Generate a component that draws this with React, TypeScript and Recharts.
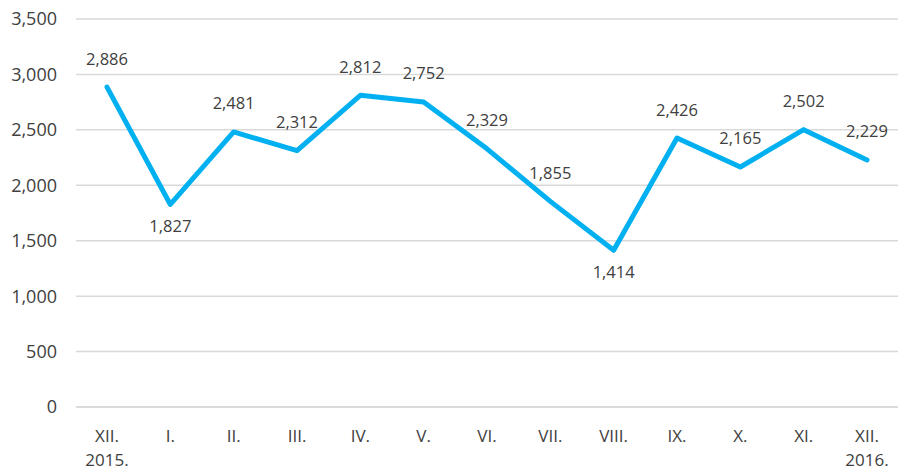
import React from 'react';
import { LineChart, Line, XAxis, YAxis, CartesianGrid, LabelList } from 'recharts';

const categories = ['XII. 2015.', 'I.', 'II.', 'III.', 'IV.', 'V.', 'VI.', 'VII.', 'VIII.', 'IX.', 'X.', 'XI.', 'XII. 2016.'];
const values = [2886, 1827, 2481, 2312, 2812, 2752, 2329, 1855, 1414, 2426, 2165, 2502, 2229];
const belowIdx = [1, 8];
const yTicks = [0, 500, 1000, 1500, 2000, 2500, 3000, 3500];

const data = categories.map((c, i) => ({ name: c, value: values[i] }));

const FONT = "'Open Sans', sans-serif";
const TEXT = '#404040';

const fmt = (v: number) => v.toLocaleString('en-US');

const XTick = (props: any) => {
  const { x, payload } = props;
  const parts = String(payload.value).split(' ');
  return (
    <g>
      {parts.map((p: string, i: number) => (
        <text key={i} x={x} y={435 + i * 24} textAnchor="middle" dominantBaseline="central" fill={TEXT} fontSize={17} fontFamily={FONT}>
          {p}
        </text>
      ))}
    </g>
  );
};

const DataLabel = (props: any) => {
  const { x, y, value, index } = props;
  const below = belowIdx.includes(index);
  return (
    <text x={x} y={below ? y + 21 : y - 29} textAnchor="middle" dominantBaseline="central" fill={TEXT} fontSize={16.5} fontFamily={FONT}>
      {fmt(value)}
    </text>
  );
};

export default function App() {
  return (
    <div style={{ position: 'absolute', left: 0, top: 0 }}>
      <LineChart width={899} height={468} data={data} margin={{ top: 19, right: 1, bottom: 0, left: 0 }}>
        <CartesianGrid vertical={false} stroke="#d9d9d9" strokeWidth={1.5} />
        <XAxis dataKey="name" height={61} tickLine={false} axisLine={{ stroke: '#d9d9d9', strokeWidth: 1.5 }} tick={<XTick />} interval={0} padding={{ left: 31, right: 31 }} />
        <YAxis width={76} domain={[0, 3500]} ticks={yTicks} tickLine={false} axisLine={false} tickSize={0} tickMargin={19}
          tickFormatter={fmt} tick={{ fill: TEXT, fontSize: 18, fontFamily: FONT }} />
        <Line type="linear" dataKey="value" stroke="#00b0f0" strokeWidth={5} dot={false} isAnimationActive={false} strokeLinejoin="round" strokeLinecap="round">
          <LabelList dataKey="value" content={<DataLabel />} />
        </Line>
      </LineChart>
    </div>
  );
}
